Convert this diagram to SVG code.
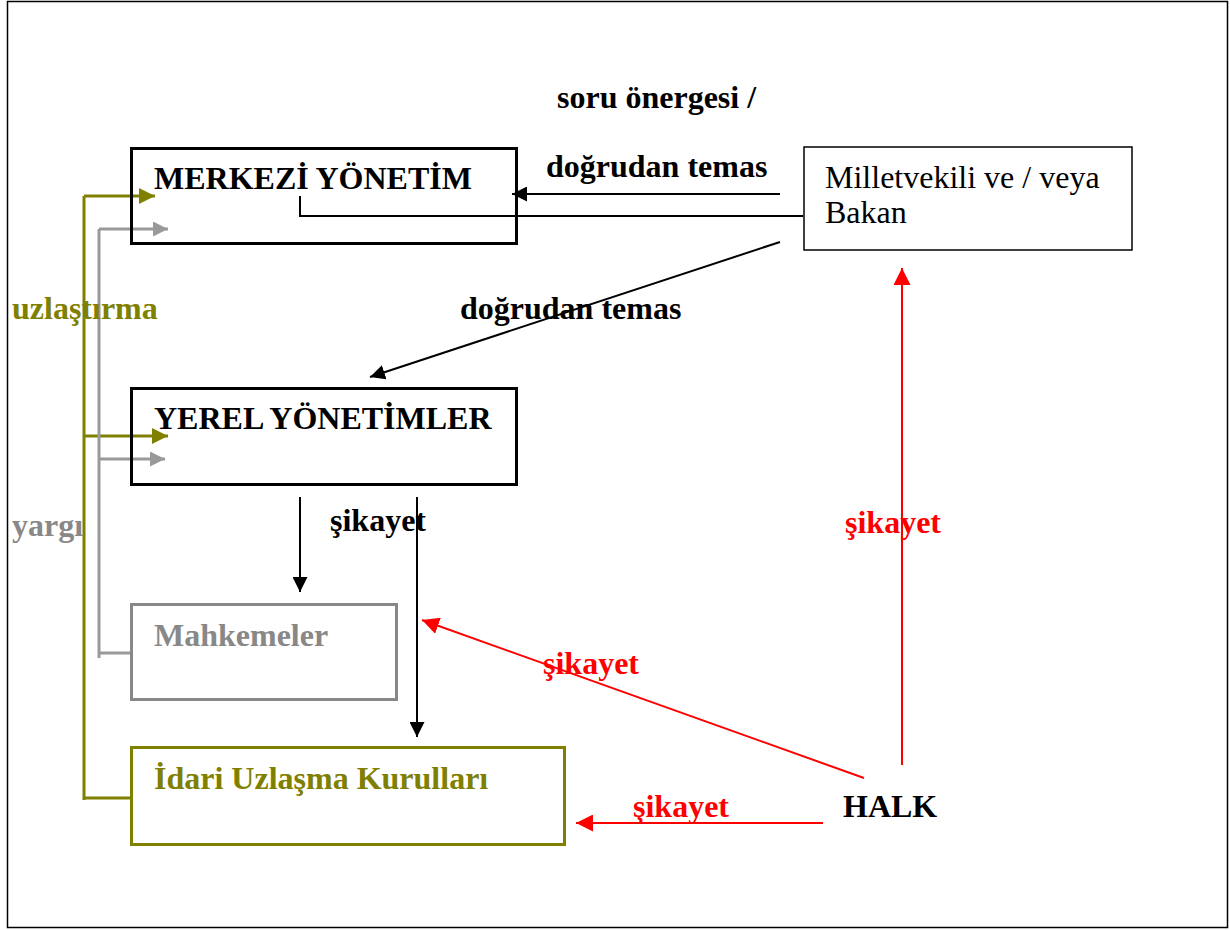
<svg xmlns="http://www.w3.org/2000/svg" width="1230" height="930" viewBox="0 0 1230 930">
  <defs>
    <style>
      text { font-family: "Liberation Serif", "Times New Roman", serif; font-weight: bold; font-size: 32px; }
      text.plain { font-weight: normal; font-size: 32px; }
      .box { fill: none; stroke-width: 3; }
      .blk { fill: #000; }
      .red { fill: #ff0000; }
      .olive { fill: #808000; }
      .gray { fill: #888888; }
      .c-blk { stroke: #000; stroke-width: 2; fill: none; }
      .c-red { stroke: #ff0000; stroke-width: 2; fill: none; }
      .c-olive { stroke: #808000; stroke-width: 3; fill: none; }
      .c-gray { stroke: #999999; stroke-width: 3; fill: none; }
    </style>
    <marker id="ah-blk" viewBox="0 0 10 10" refX="10" refY="5" markerWidth="15" markerHeight="15" markerUnits="userSpaceOnUse" orient="auto">
      <path d="M0,0 L10,5 L0,10 z" fill="#000"/>
    </marker>
    <marker id="ah-red" viewBox="0 0 10 10" refX="10" refY="5" markerWidth="17" markerHeight="17" markerUnits="userSpaceOnUse" orient="auto">
      <path d="M0,0 L10,5 L0,10 z" fill="#ff0000"/>
    </marker>
    <marker id="ah-olive" viewBox="0 0 10 10" refX="10" refY="5" markerWidth="16" markerHeight="16" markerUnits="userSpaceOnUse" orient="auto">
      <path d="M0,0 L10,5 L0,10 z" fill="#808000"/>
    </marker>
    <marker id="ah-gray" viewBox="0 0 10 10" refX="10" refY="5" markerWidth="15" markerHeight="15" markerUnits="userSpaceOnUse" orient="auto">
      <path d="M0,0 L10,5 L0,10 z" fill="#999999"/>
    </marker>
  </defs>

  <rect x="0" y="0" width="1230" height="930" fill="#fff"/>
  <!-- page frame -->
  <rect x="7.5" y="1.5" width="1220" height="926" fill="none" stroke="#000" stroke-width="1.5"/>

  <!-- connectors -->
  <g id="connectors">
    <!-- olive: conciliation bracket -->
    <path class="c-olive" d="M84,800 L84,196"/>
    <path class="c-olive" d="M84,196 L155,196" marker-end="url(#ah-olive)"/>
    <path class="c-olive" d="M84,436 L168,436" marker-end="url(#ah-olive)"/>
    <path class="c-olive" d="M84,798 L131,798"/>
    <!-- gray: judiciary bracket -->
    <path class="c-gray" d="M99,658 L99,229"/>
    <path class="c-gray" d="M99,229 L168,229" marker-end="url(#ah-gray)"/>
    <path class="c-gray" d="M99,459 L165,459" marker-end="url(#ah-gray)"/>
    <path class="c-gray" d="M99,653 L131,653"/>
    <!-- black -->
    <path class="c-blk" d="M780,194 L512,194" marker-end="url(#ah-blk)"/>
    <path class="c-blk" d="M803,216 L300,216 L300,196"/>
    <path class="c-blk" d="M780,242 L370,377" marker-end="url(#ah-blk)"/>
    <path class="c-blk" d="M300,497 L300,592" marker-end="url(#ah-blk)"/>
    <path class="c-blk" d="M417,497 L417,737" marker-end="url(#ah-blk)"/>
    <!-- red -->
    <path class="c-red" d="M864,778 L422,620" marker-end="url(#ah-red)"/>
    <path class="c-red" d="M823,823 L576,823" marker-end="url(#ah-red)"/>
    <path class="c-red" d="M902,765 L902,268" marker-end="url(#ah-red)"/>
  </g>

  <!-- nodes -->
  <g id="merkezi">
    <rect class="box" x="131.5" y="148.5" width="385" height="95" stroke="#000"/>
    <text class="blk" x="154" y="189">MERKEZİ YÖNETİM</text>
  </g>
  <g id="yerel">
    <rect class="box" x="131.5" y="388.5" width="385" height="96" stroke="#000"/>
    <text class="blk" x="154" y="429">YEREL YÖNETİMLER</text>
  </g>
  <g id="mahkemeler">
    <rect class="box" x="131.5" y="604.5" width="265" height="95" stroke="#888888"/>
    <text class="gray" x="154" y="646">Mahkemeler</text>
  </g>
  <g id="idari">
    <rect class="box" x="131.5" y="747.5" width="433" height="97" stroke="#808000"/>
    <text class="olive" x="154" y="789">İdari Uzlaşma Kurulları</text>
  </g>
  <g id="milletvekili">
    <rect x="804" y="147" width="328" height="103" fill="none" stroke="#000" stroke-width="1.5"/>
    <text class="plain blk" x="825" y="188">Milletvekili ve / veya</text>
    <text class="plain blk" x="825" y="223">Bakan</text>
  </g>
  <g id="halk">
    <text class="blk" x="843" y="817">HALK</text>
  </g>

  <!-- edge labels -->
  <g id="labels">
    <text class="blk" x="557" y="108">soru önergesi /</text>
    <text class="blk" x="546" y="177">doğrudan temas</text>
    <text class="blk" x="460" y="319">doğrudan temas</text>
    <text class="olive" x="12" y="319">uzlaştırma</text>
    <text class="gray" x="12" y="536">yargı</text>
    <text class="blk" x="330" y="531">şikayet</text>
    <text class="red" x="845" y="533">şikayet</text>
    <text class="red" x="543" y="674">şikayet</text>
    <text class="red" x="633" y="817">şikayet</text>
  </g>
</svg>
